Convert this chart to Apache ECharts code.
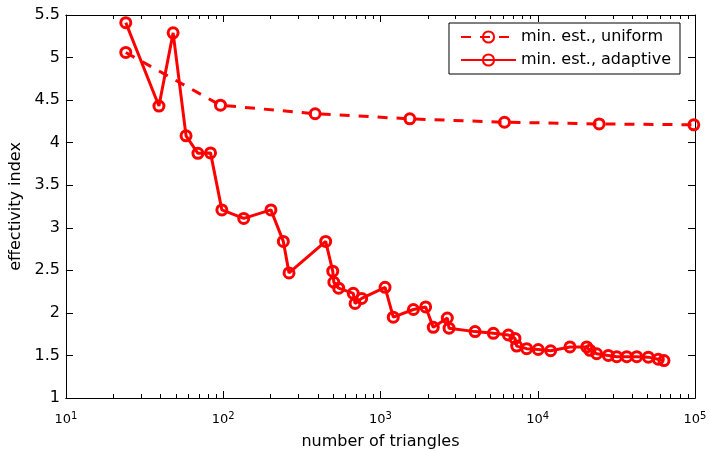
<!DOCTYPE html>
<html>
<head>
<meta charset="utf-8">
<script src="https://cdn.jsdelivr.net/npm/echarts@6/dist/echarts.min.js"></script>
<style>
html,body{margin:0;padding:0;background:#fff;}
#chart{width:709px;height:451px;}
</style>
</head>
<body>
<div id="chart"></div>
<script>
// Uniform refinement: number of triangles and min. estimate
const uniformN = [24, 96, 384, 1536, 6144, 24576, 98304];
const uniformE = [5.06, 4.44, 4.34, 4.28, 4.24, 4.22, 4.21];

// Adaptive refinement: number of triangles and min. estimate
const adaptiveN = [24, 39, 48, 58, 69, 83, 98, 135, 201, 241, 262, 448, 497, 505, 542,
  671, 689, 759, 1069, 1206, 1619, 1937, 2166, 2660, 2728, 3993, 5220, 6505, 7164,
  7345, 8505, 10070, 12080, 16030, 20470, 21480, 23700, 28100, 31780, 36800, 42600,
  50500, 58400, 63500];
const adaptiveE = [5.41, 4.43, 5.29, 4.08, 3.875, 3.88, 3.21, 3.11, 3.21, 2.84, 2.47, 2.84, 2.49, 2.36, 2.29,
  2.23, 2.11, 2.17, 2.30, 1.95, 2.04, 2.07, 1.83, 1.94, 1.82, 1.78, 1.76, 1.74, 1.70,
  1.61, 1.58, 1.57, 1.555, 1.60, 1.60, 1.56, 1.52, 1.50, 1.485, 1.485, 1.485,
  1.48, 1.455, 1.44];

const seriesNames = ['min. est., uniform', 'min. est., adaptive'];
const xTitle = 'number of triangles';
const yTitle = 'effectivity index';
const xMajorTicks = [10, 100, 1000, 10000, 100000];
const xMinorTicks = [20,30,40,50,60,70,80,90,200,300,400,500,600,700,800,900,
  2000,3000,4000,5000,6000,7000,8000,9000,20000,30000,40000,50000,60000,70000,80000,90000];

const FONT = '"DejaVu Sans", Verdana, sans-serif';
const toPairs = (xs, ys) => xs.map((x, i) => [x, ys[i]]);

const chart = echarts.init(document.getElementById('chart'), null, {renderer: 'canvas'});

function xAxisBase(extra) {
  return Object.assign({
    type: 'log', logBase: 10, min: 10, max: 100000,
    axisLine: {show: true, onZero: false, lineStyle: {color: '#000', width: 1}},
    splitLine: {show: false},
    minorTick: {show: false},
    axisLabel: {show: false}
  }, extra);
}

const option = {
  animation: false,
  backgroundColor: '#fff',
  textStyle: {fontFamily: FONT},
  grid: {left: 66, right: 14, top: 15, bottom: 53, containLabel: false, outerBoundsMode: 'none'},
  legend: {
    orient: 'vertical',
    right: 29, top: 23,
    backgroundColor: '#fff',
    borderColor: '#000', borderWidth: 1, borderRadius: 0,
    padding: [6, 9, 6, 11],
    itemWidth: 55, itemHeight: 14, itemGap: 7, textGap: 5,
    textStyle: {fontFamily: FONT, fontSize: 16, lineHeight: 16, color: '#000'},
    data: seriesNames
  },
  xAxis: [
    xAxisBase({
      position: 'bottom',
      name: xTitle, nameLocation: 'middle', nameGap: 36,
      nameTextStyle: {fontFamily: FONT, fontSize: 16, color: '#000'},
      axisTick: {show: true, inside: true, length: 7, customValues: xMajorTicks, lineStyle: {color: '#000'}},
      axisLabel: {
        show: true, margin: 13, customValues: xMajorTicks,
        formatter: v => '{b|10}{s|' + Math.round(Math.log10(v)) + '}',
        rich: {
          b: {fontFamily: FONT, fontSize: 13, color: '#000'},
          s: {fontFamily: FONT, fontSize: 10, color: '#000', padding: [0, 0, 8, 0]}
        }
      }
    }),
    xAxisBase({
      position: 'bottom',
      axisTick: {show: true, inside: true, length: 4, customValues: xMinorTicks, lineStyle: {color: '#000'}}
    }),
    xAxisBase({
      position: 'top',
      axisTick: {show: true, inside: true, length: 7, customValues: xMajorTicks, lineStyle: {color: '#000'}}
    }),
    xAxisBase({
      position: 'top',
      axisTick: {show: true, inside: true, length: 4, customValues: xMinorTicks, lineStyle: {color: '#000'}}
    })
  ],
  yAxis: [
    {
      type: 'value', min: 1, max: 5.5, interval: 0.5, position: 'left',
      name: yTitle, nameLocation: 'middle', nameGap: 41, nameRotate: 90,
      nameTextStyle: {fontFamily: FONT, fontSize: 16, color: '#000'},
      axisLine: {show: true, onZero: false, lineStyle: {color: '#000', width: 1}},
      axisTick: {show: true, inside: true, length: 7, lineStyle: {color: '#000'}},
      axisLabel: {fontFamily: FONT, fontSize: 16, color: '#000', margin: 6},
      splitLine: {show: false}
    },
    {
      type: 'value', min: 1, max: 5.5, interval: 0.5, position: 'right',
      axisLine: {show: true, onZero: false, lineStyle: {color: '#000', width: 1}},
      axisTick: {show: true, inside: true, length: 7, lineStyle: {color: '#000'}},
      axisLabel: {show: false},
      splitLine: {show: false}
    }
  ],
  series: [
    {
      name: seriesNames[0], type: 'line',
      data: toPairs(uniformN, uniformE),
      xAxisIndex: 0, yAxisIndex: 0,
      symbol: 'circle', symbolSize: 10, showAllSymbol: true,
      lineStyle: {color: '#ff0000', width: 3, type: [10, 9]},
      itemStyle: {color: 'rgba(255,255,255,0)', borderColor: '#ff0000', borderWidth: 3}
    },
    {
      name: seriesNames[1], type: 'line',
      data: toPairs(adaptiveN, adaptiveE),
      xAxisIndex: 0, yAxisIndex: 0,
      symbol: 'circle', symbolSize: 10, showAllSymbol: true,
      lineStyle: {color: '#ff0000', width: 3},
      itemStyle: {color: 'rgba(255,255,255,0)', borderColor: '#ff0000', borderWidth: 3}
    }
  ]
};
chart.setOption(option);
</script>
</body>
</html>
